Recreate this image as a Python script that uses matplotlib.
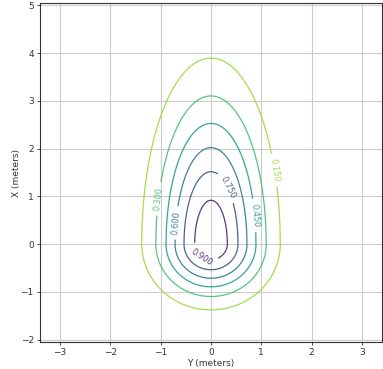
import numpy as np
import matplotlib
matplotlib.use("Agg")
import matplotlib.pyplot as plt

# Data: field parameters and contour levels
levels = [0.15, 0.30, 0.45, 0.60, 0.75, 0.90]
sigma_lateral = 0.707      # spread along Y (meters)
sigma_forward = 2.0        # spread along +X (meters)
sigma_backward = 0.707     # spread along -X (meters)
y_grid = np.linspace(-3.4, 3.4, 400)
x_grid = np.linspace(-2.05, 5.05, 400)
xticks = [-3, -2, -1, 0, 1, 2, 3]
yticks = [-2, -1, 0, 1, 2, 3, 4, 5]
label_positions = [(1.27, 1.55), (-1.03, 0.95), (0.88, 0.6), (-0.75, 0.45),
                   (0.35, 1.2), (-0.18, -0.27)]

Yg, Xg = np.meshgrid(y_grid, x_grid)
sig_x = np.where(Xg >= 0, sigma_forward, sigma_backward)
Z = np.exp(-Yg**2 / (2 * sigma_lateral**2)) * np.exp(-Xg**2 / (2 * sig_x**2))

fig = plt.figure(figsize=(3.83, 3.69), dpi=100)
ax = fig.add_axes([40/383, 1 - 342/369, 342/383, 339/369])
cs = ax.contour(Yg, Xg, Z, levels=levels, cmap='viridis_r', vmin=0, vmax=1,
                linewidths=0.9, alpha=0.9)
ax.clabel(cs, fmt='%.3f', fontsize=6, inline=True, manual=label_positions)
ax.set_xlim(-3.4, 3.4)
ax.set_ylim(-2.05, 5.05)
ax.set_xticks(xticks)
ax.set_yticks(yticks)
ax.grid(True, color='#cccccc', linewidth=0.8)
ax.set_axisbelow(True)
ax.tick_params(labelsize=6.5, length=2.5, width=0.6, pad=2, colors='#333333')
for s in ax.spines.values():
    s.set_color('#333333')
    s.set_linewidth(0.8)
ax.set_xlabel('Y (meters)', fontsize=6.5, labelpad=1, color='#333333')
ax.set_ylabel('X (meters)', fontsize=6.5, labelpad=0, color='#333333')
fig.savefig('out.png', dpi=100)
